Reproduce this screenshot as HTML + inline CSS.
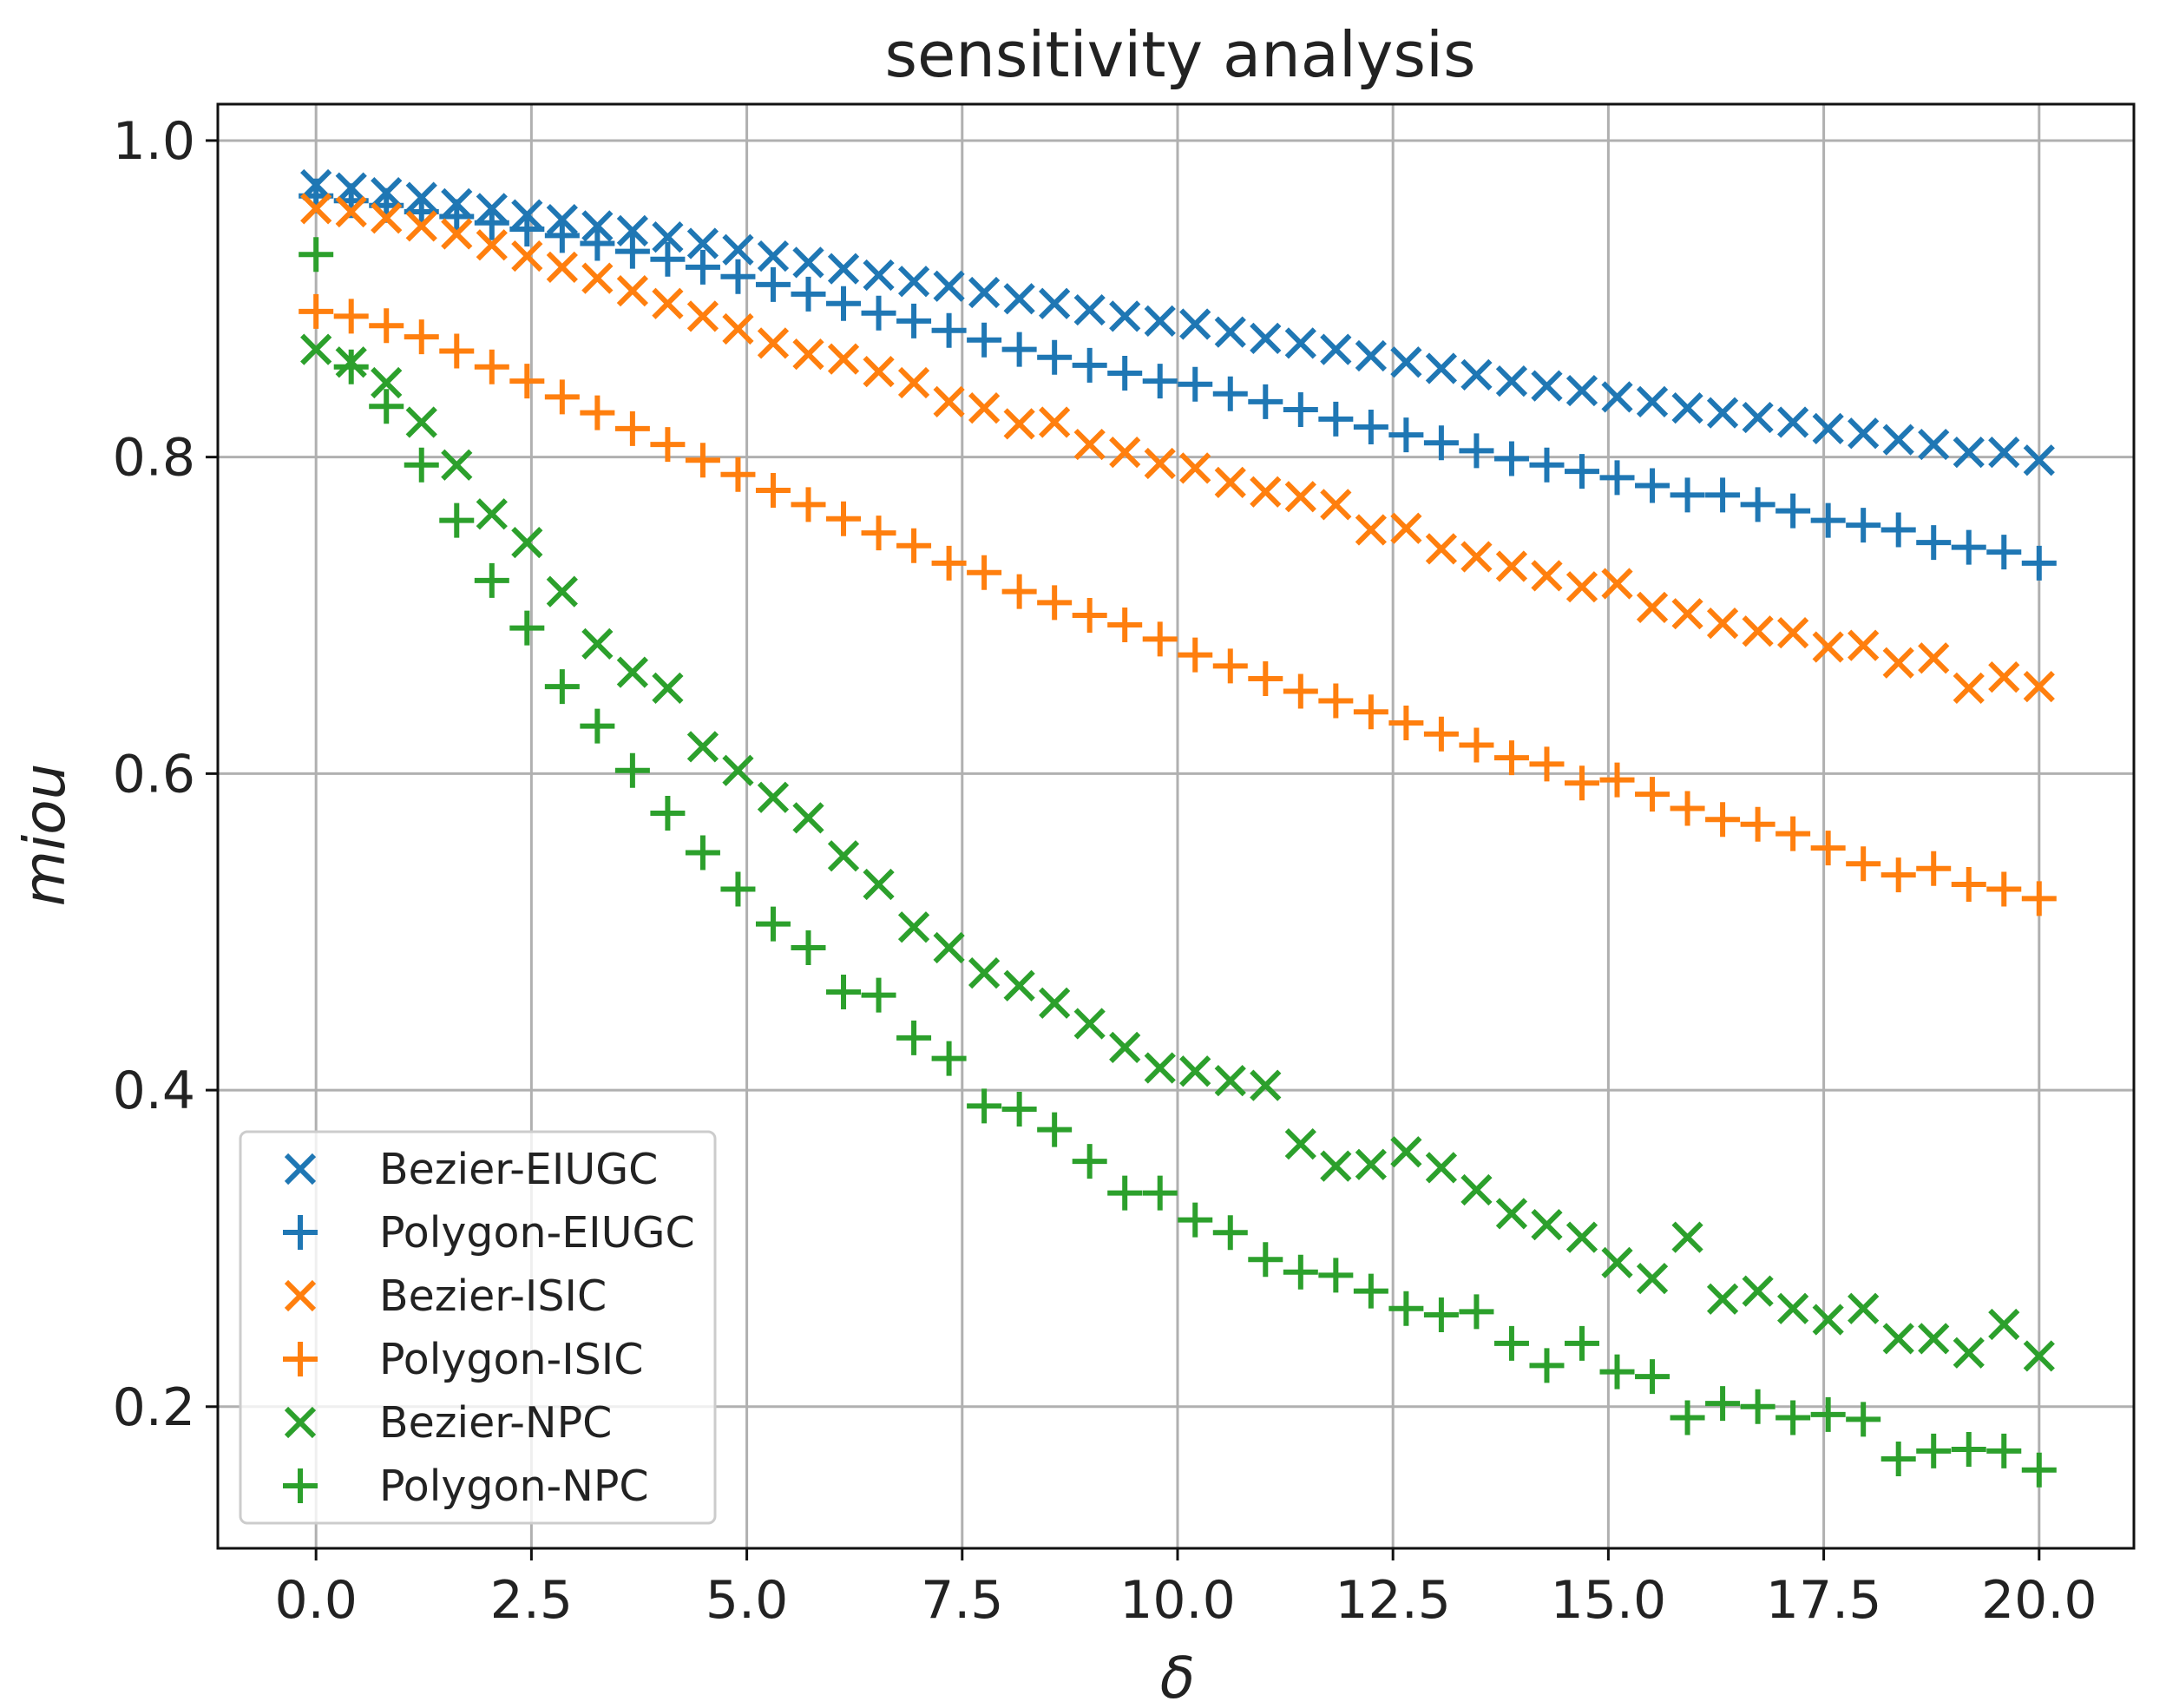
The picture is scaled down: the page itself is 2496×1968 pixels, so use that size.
<!DOCTYPE html>
<html><head><meta charset="utf-8"><style>html,body{margin:0;padding:0;background:#fff}svg{display:block}text{font-family:"DejaVu Sans","Liberation Sans",sans-serif;fill:#222}</style></head>
<body>
<svg id="chart" width="2496" height="1968" viewBox="0 0 2496 1968" xmlns="http://www.w3.org/2000/svg">
<text x="1360" y="88" font-size="72" text-anchor="middle">sensitivity analysis</text>
<text x="1357" y="1956" font-size="66" font-style="italic" text-anchor="middle">δ</text>
<text transform="translate(74,962) rotate(-90)" font-size="66" font-style="italic" text-anchor="middle">miou</text>
<g id="grid"></g><g id="ticks"></g><g id="marks"></g>
<rect x="251" y="120" width="2208" height="1664" fill="none" stroke="#111" stroke-width="3"/>
<g id="legend"></g>
</svg>
<script>
const xTicks=[0,2.5,5,7.5,10,12.5,15,17.5,20];
const yTicks=[0.2,0.4,0.6,0.8,1.0];
const seriesNames=["Bezier-EIUGC","Polygon-EIUGC","Bezier-ISIC","Polygon-ISIC","Bezier-NPC","Polygon-NPC"];
const seriesColors=["#1f77b4","#1f77b4","#ff7f0e","#ff7f0e","#2ca02c","#2ca02c"];
const seriesMarkers=["x","+","x","+","x","+"];
const bezierEIUGC=[0.972,0.970,0.967,0.964,0.960,0.957,0.953,0.950,0.946,0.943,0.939,0.935,0.931,0.927,0.923,0.919,0.915,0.911,0.908,0.904,0.900,0.897,0.893,0.889,0.886,0.884,0.879,0.875,0.872,0.868,0.864,0.860,0.856,0.852,0.848,0.845,0.842,0.838,0.835,0.831,0.828,0.825,0.822,0.818,0.815,0.811,0.808,0.803,0.803,0.798];
const polygonEIUGC=[0.965,0.962,0.959,0.955,0.952,0.948,0.944,0.940,0.935,0.930,0.925,0.920,0.914,0.909,0.903,0.897,0.891,0.886,0.880,0.874,0.868,0.863,0.858,0.853,0.848,0.846,0.840,0.835,0.830,0.824,0.819,0.814,0.809,0.804,0.799,0.795,0.791,0.787,0.782,0.776,0.776,0.770,0.766,0.760,0.757,0.754,0.746,0.743,0.740,0.733];
const bezierISIC=[0.957,0.955,0.951,0.946,0.941,0.934,0.927,0.920,0.913,0.905,0.897,0.889,0.881,0.872,0.865,0.862,0.854,0.847,0.835,0.831,0.821,0.822,0.808,0.803,0.796,0.793,0.784,0.778,0.775,0.770,0.754,0.755,0.742,0.737,0.731,0.725,0.718,0.720,0.705,0.701,0.695,0.690,0.689,0.680,0.681,0.670,0.673,0.654,0.661,0.655];
const polygonISIC=[0.892,0.889,0.883,0.876,0.867,0.857,0.848,0.838,0.828,0.818,0.808,0.798,0.789,0.779,0.770,0.761,0.752,0.744,0.733,0.727,0.715,0.708,0.700,0.694,0.685,0.675,0.668,0.660,0.652,0.646,0.639,0.632,0.625,0.618,0.610,0.606,0.594,0.596,0.587,0.578,0.571,0.568,0.562,0.553,0.543,0.536,0.540,0.530,0.527,0.521];
const bezierNPC=[0.868,0.860,0.847,0.822,0.795,0.764,0.746,0.715,0.682,0.664,0.654,0.617,0.602,0.585,0.572,0.548,0.530,0.503,0.490,0.474,0.466,0.455,0.442,0.427,0.414,0.412,0.406,0.403,0.366,0.352,0.353,0.361,0.351,0.337,0.322,0.315,0.307,0.291,0.281,0.307,0.268,0.273,0.262,0.255,0.262,0.243,0.243,0.234,0.252,0.232];
const polygonNPC=[0.928,0.857,0.832,0.795,0.760,0.722,0.692,0.655,0.630,0.602,0.575,0.550,0.527,0.505,0.490,0.462,0.460,0.433,0.420,0.390,0.388,0.375,0.355,0.335,0.335,0.318,0.310,0.293,0.285,0.283,0.273,0.262,0.258,0.260,0.240,0.226,0.240,0.222,0.219,0.193,0.202,0.200,0.193,0.195,0.192,0.167,0.172,0.173,0.172,0.160];
const seriesValues=[bezierEIUGC,polygonEIUGC,bezierISIC,polygonISIC,bezierNPC,polygonNPC];

const NS="http://www.w3.org/2000/svg";
const L=251,R=2459,T=120,B=1784,xmin=-1.14,xmax=21.1,ymin=0.1105,ymax=1.023;
const sx=v=>L+(v-xmin)/(xmax-xmin)*(R-L);
const sy=v=>B-(v-ymin)/(ymax-ymin)*(B-T);
function mk(tag,attrs,parent){const e=document.createElementNS(NS,tag);for(const k in attrs)e.setAttribute(k,attrs[k]);parent.appendChild(e);return e;}
const grid=document.getElementById('grid'),ticks=document.getElementById('ticks'),marks=document.getElementById('marks'),legend=document.getElementById('legend');
xTicks.forEach(t=>{const x=sx(t);
 const g=mk('line',{x1:x,x2:x,y1:T,y2:B,stroke:'#b0b0b0','stroke-width':3},grid);
 
 
 mk('line',{x1:x,x2:x,y1:B,y2:B+14,stroke:'#111','stroke-width':3},ticks);
 const tx=mk('text',{x:x,y:B+80,'font-size':60,'text-anchor':'middle'},ticks);tx.textContent=t.toFixed(1);
 
 
});
yTicks.forEach(t=>{const y=sy(t);
 const g=mk('line',{x1:L,x2:R,y1:y,y2:y,stroke:'#b0b0b0','stroke-width':3},grid);
 
 
 mk('line',{x1:L-14,x2:L,y1:y,y2:y,stroke:'#111','stroke-width':3},ticks);
 const tx=mk('text',{x:L-26,y:y+21,'font-size':60,'text-anchor':'end'},ticks);tx.textContent=t.toFixed(1);
 
 
});
function marker(type,x,y,c,parent,s){
 const d=type==='x'?`M${x-s} ${y-s}L${x+s} ${y+s}M${x-s} ${y+s}L${x+s} ${y-s}`:`M${x-s*1.25} ${y}L${x+s*1.25} ${y}M${x} ${y-s*1.25}L${x} ${y+s*1.25}`;
 return mk('path',{d:d,stroke:c,'stroke-width':6,fill:'none'},parent);
}
seriesValues.forEach((vals,si)=>{
 const g=mk('g',{},marks);
 
 
 const n=vals.length;
 vals.forEach((v,i)=>{const xv=20*i/(n-1);
  const p=marker(seriesMarkers[si],sx(xv),sy(v),seriesColors[si],g,16);
  
  
 });
});
const lb=mk('rect',{x:277,y:1304,width:547,height:451,rx:8,fill:'#fff','fill-opacity':0.8,stroke:'#ccc','stroke-width':3},legend);


seriesNames.forEach((nm,i)=>{const y=1347+i*73;
 const g=mk('g',{},legend);
 
 
 marker(seriesMarkers[i],346,y,seriesColors[i],g,16);
 const t=mk('text',{x:437,y:y+17,'font-size':49},g);t.textContent=nm;
});
</script>
</body></html>
